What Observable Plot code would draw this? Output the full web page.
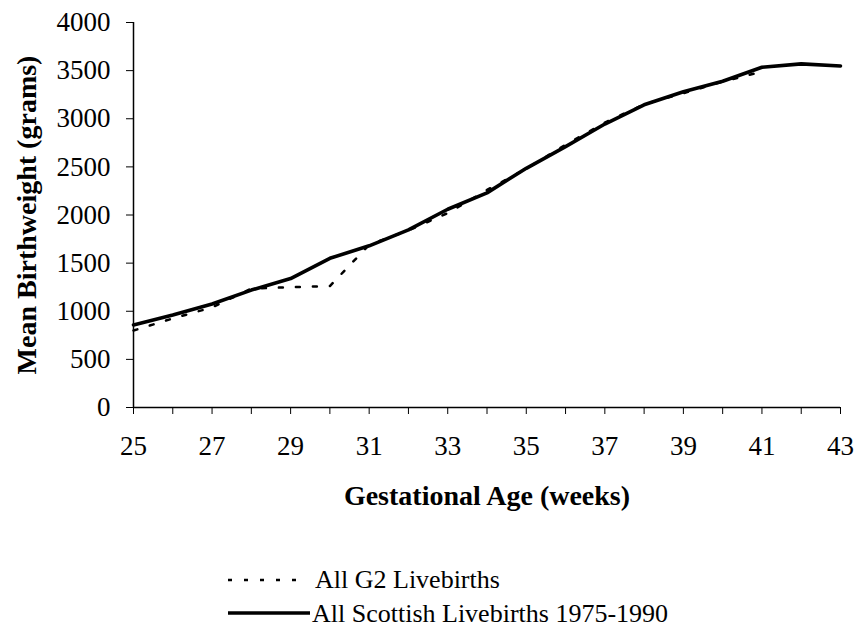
<!DOCTYPE html>
<html><head><meta charset="utf-8">
<script src="https://cdn.jsdelivr.net/npm/d3@7"></script>
<script src="https://cdn.jsdelivr.net/npm/@observablehq/plot@0.6"></script>
<style>
body{margin:0;background:#fff;}
#wrap{position:relative;width:856px;height:629px;background:#fff;font-family:"Liberation Serif","Times New Roman",serif;}
#legend{position:absolute;left:0;top:540px;}
</style></head><body><div id="wrap"></div>
<script>
// Data
const weeks = [25,26,27,28,29,30,31,32,33,34,35,36,37,38,39,40,41,42,43];
const scottishBW = [858,960,1075,1220,1340,1550,1680,1845,2060,2230,2485,2710,2945,3145,3280,3390,3535,3570,3548];
const g2Weeks = [25,26,27,28,29,30,31,32,33,34,35,36,37,38,39,40,41];
const g2BW = [800,925,1040,1235,1250,1262,1690,1840,2020,2260,2480,2730,2960,3150,3265,3385,3490];
const yTicks = [0,500,1000,1500,2000,2500,3000,3500,4000];
const xTicks = [25,26,27,28,29,30,31,32,33,34,35,36,37,38,39,40,41,42,43];
const xTitle = "Gestational Age (weeks)";
const yTitle = "Mean Birthweight (grams)";
const legendLabels = ["All G2 Livebirths", "All Scottish Livebirths 1975-1990"];

const scottish = weeks.map((w,i)=>({w, v: scottishBW[i]}));
const g2 = g2Weeks.map((w,i)=>({w, v: g2BW[i]}));

const chart = Plot.plot({
  width: 856,
  height: 540,
  marginTop: 22,
  marginBottom: 133,
  marginLeft: 133,
  marginRight: 16,
  style: {fontFamily: "'Liberation Serif','Times New Roman',serif", fontSize: "27px", background: "white", color: "black"},
  x: {domain: [25, 43]},
  y: {domain: [0, 4000]},
  marks: [
    Plot.axisY({ticks: yTicks, tickSize: 7, tickPadding: 16, label: null, fontSize: 27, tickFormat: d => String(d)}),
    Plot.axisX({ticks: xTicks, tickSize: 7, tickPadding: 21, label: null, fontSize: 27,
      tickFormat: d => (d % 2 === 1 ? String(d) : "")}),
    Plot.ruleY([0], {stroke: "black", strokeWidth: 1.5}),
    Plot.ruleX([25], {stroke: "black", strokeWidth: 1.5}),
    Plot.line(g2, {x: "w", y: "v", stroke: "black", strokeWidth: 2.5, strokeDasharray: "4,13"}),
    Plot.line(scottish, {x: "w", y: "v", stroke: "black", strokeWidth: 3.6}),
    Plot.text([xTitle], {frameAnchor: "bottom", dy: 97, fontWeight: "bold", fontSize: 28}),
    Plot.text([yTitle], {frameAnchor: "left", dx: -106, rotate: -90, textAnchor: "middle", fontWeight: "bold", fontSize: 28})
  ]
});

const wrap = document.getElementById("wrap");
wrap.appendChild(chart);

// Legend (below the chart)
const leg = d3.create("svg").attr("id","legend").attr("width",856).attr("height",89)
  .style("font-family","'Liberation Serif','Times New Roman',serif").style("font-size","26px");
leg.append("line").attr("x1",228).attr("x2",298).attr("y1",40).attr("y2",40)
  .attr("stroke","black").attr("stroke-width",2.5).attr("stroke-dasharray","4,12");
leg.append("text").attr("x",315).attr("y",48).text(legendLabels[0]);
leg.append("line").attr("x1",228).attr("x2",310).attr("y1",73).attr("y2",73)
  .attr("stroke","black").attr("stroke-width",3.6);
leg.append("text").attr("x",312).attr("y",82).text(legendLabels[1]);
wrap.appendChild(leg.node());
</script></body></html>
